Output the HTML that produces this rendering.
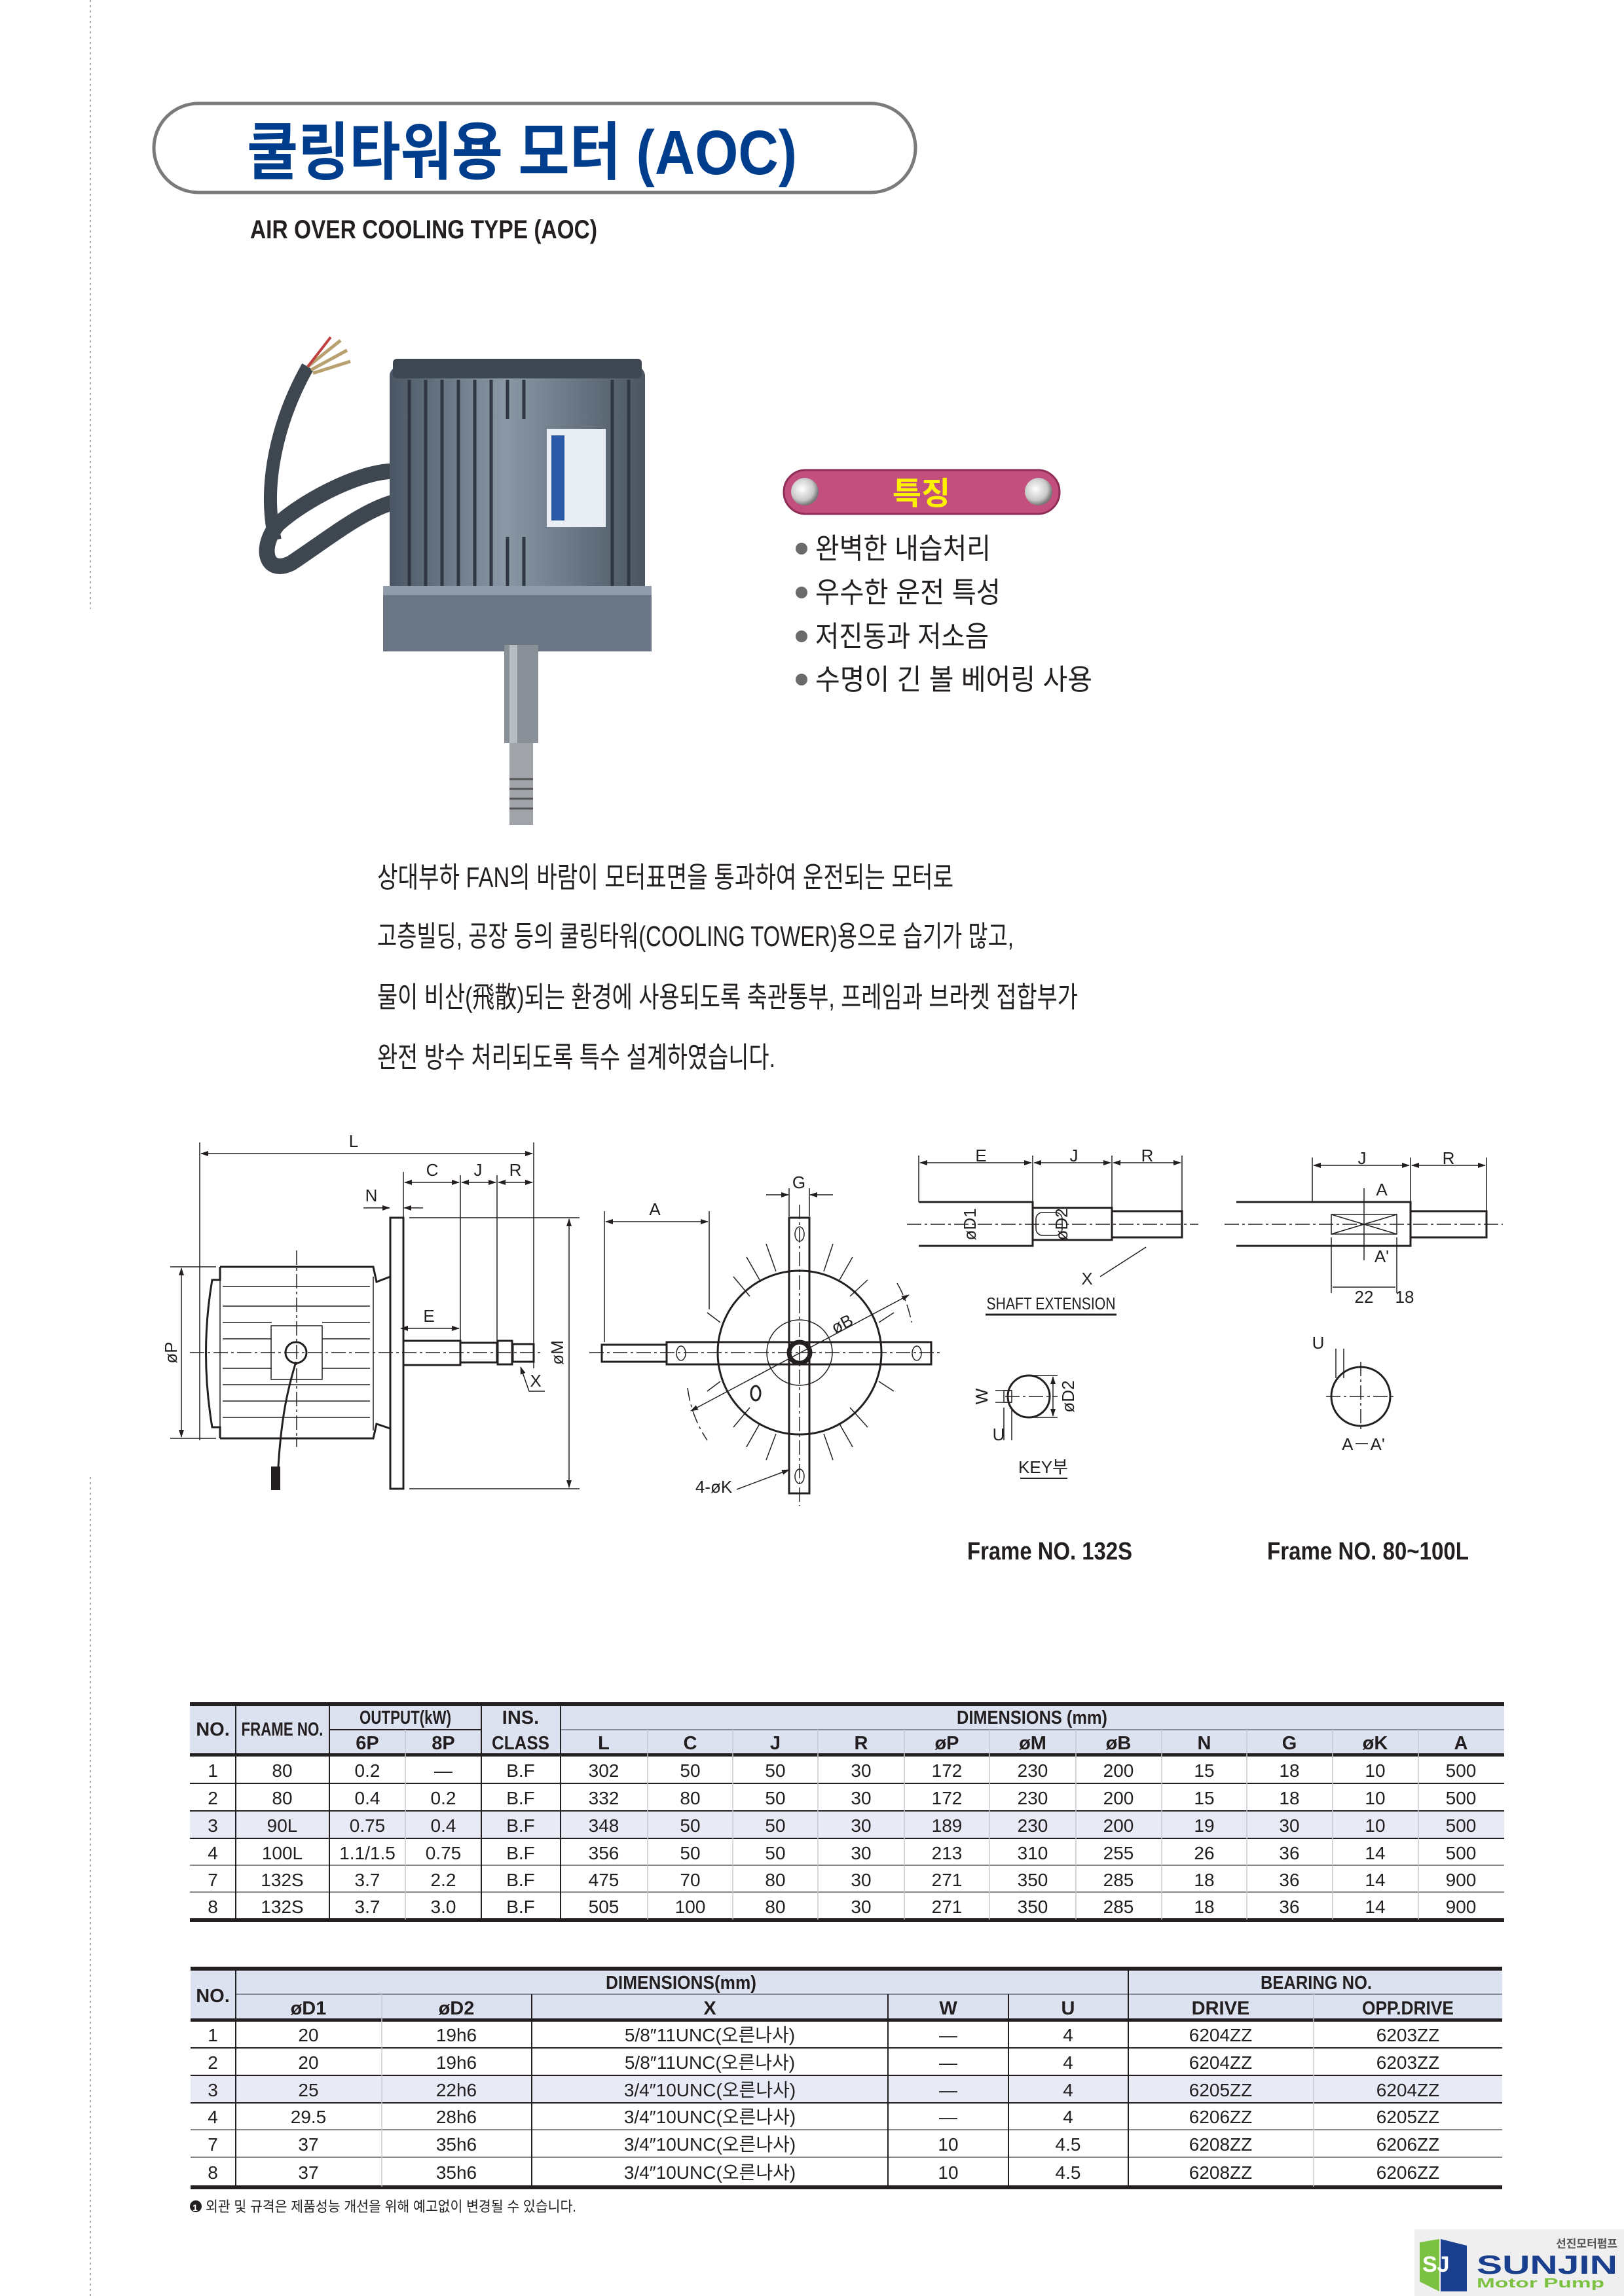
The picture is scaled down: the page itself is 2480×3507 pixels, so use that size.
<!DOCTYPE html>
<html><head><meta charset="utf-8"><style>
html,body{margin:0;padding:0;background:#fff;}
svg{display:block;}
text{font-family:"Liberation Sans","Noto Sans CJK KR",sans-serif;fill:#231f20;}
.b{font-weight:bold;}
.h{font-size:29px;font-weight:bold;text-anchor:middle;}
.d{font-size:28px;text-anchor:middle;}
.ln{stroke:#231f20;fill:none;stroke-width:3;}
.th{stroke:#231f20;fill:none;stroke-width:1.5;}
.cl{stroke:#231f20;fill:none;stroke-width:1.5;stroke-dasharray:22 5 4 5;}
.lb{font-size:26px;text-anchor:middle;}
</style></head><body>
<svg width="2480" height="3507" viewBox="0 0 2480 3507" xmlns="http://www.w3.org/2000/svg">
<defs>
<marker id="ar" markerWidth="12" markerHeight="8" refX="11" refY="4" orient="auto-start-reverse" markerUnits="userSpaceOnUse"><path d="M0,0 L12,4 L0,8 z" fill="#231f20"/></marker>
<radialGradient id="ball" cx="40%" cy="40%" r="60%"><stop offset="0" stop-color="#fff"/><stop offset="0.7" stop-color="#c8c8c8"/><stop offset="1" stop-color="#777"/></radialGradient>
<linearGradient id="mb" x1="0" x2="1"><stop offset="0" stop-color="#4a5663"/><stop offset="0.45" stop-color="#8a98a6"/><stop offset="1" stop-color="#4a5562"/></linearGradient>
</defs>

<line x1="138" y1="0" x2="138" y2="930" stroke="#aaa" stroke-width="2" stroke-dasharray="3 5"/>
<line x1="138" y1="2256" x2="138" y2="3507" stroke="#aaa" stroke-width="2" stroke-dasharray="3 5"/>

<rect x="235" y="158" width="1163" height="136" rx="68" fill="#fff" stroke="#7a7a7a" stroke-width="5"/>
<text x="377" y="266" class="b" font-size="96" textLength="840" lengthAdjust="spacingAndGlyphs" style="fill:#003d8c">쿨링타워용 모터 (AOC)</text>
<text x="382" y="364" class="b" font-size="40" textLength="530" lengthAdjust="spacingAndGlyphs">AIR OVER COOLING TYPE (AOC)</text>

<!-- motor photo -->
<g>
<path d="M610,720 C560,715 470,760 425,800 C395,835 405,880 445,860 C505,820 560,775 610,765" fill="none" stroke="#3e4650" stroke-width="24" stroke-linecap="round"/>
<path d="M420,825 C400,740 425,640 470,560" fill="none" stroke="#3e4650" stroke-width="20"/>
<path d="M470,560 L520,520 M475,565 L530,535 M478,570 L535,552" stroke="#b8a070" stroke-width="5"/>
<path d="M470,560 L505,515" stroke="#c04040" stroke-width="4"/>
<rect x="595" y="560" width="390" height="400" rx="14" fill="url(#mb)"/>
<rect x="600" y="548" width="380" height="30" rx="6" fill="#3e4852"/>
<g stroke="#2f3842" stroke-width="5">
<line x1="625" y1="580" x2="625" y2="935"/><line x1="650" y1="580" x2="650" y2="935"/><line x1="675" y1="580" x2="675" y2="935"/><line x1="700" y1="580" x2="700" y2="935"/><line x1="725" y1="580" x2="725" y2="935"/><line x1="750" y1="580" x2="750" y2="935"/><line x1="775" y1="580" x2="775" y2="640"/><line x1="800" y1="580" x2="800" y2="640"/><line x1="775" y1="820" x2="775" y2="935"/><line x1="800" y1="820" x2="800" y2="935"/><line x1="935" y1="580" x2="935" y2="935"/><line x1="960" y1="580" x2="960" y2="935"/>
</g>
<rect x="585" y="895" width="410" height="100" fill="#6a7684"/>
<rect x="585" y="895" width="410" height="14" fill="#909cab"/>
<rect x="835" y="655" width="90" height="150" fill="#e8eef4"/>
<rect x="842" y="665" width="20" height="130" fill="#2a5aa8"/>
<rect x="770" y="985" width="52" height="150" fill="#8a9098"/>
<rect x="778" y="985" width="12" height="150" fill="#b8bec4"/>
<rect x="778" y="1135" width="36" height="125" fill="#a0a4a8"/>
<g stroke="#555" stroke-width="3"><line x1="778" y1="1190" x2="814" y2="1190"/><line x1="778" y1="1205" x2="814" y2="1205"/><line x1="778" y1="1220" x2="814" y2="1220"/><line x1="778" y1="1235" x2="814" y2="1235"/></g>
</g>

<rect x="1197" y="718" width="421" height="67" rx="33" fill="#c24f7e" stroke="#8e2d56" stroke-width="3"/>
<circle cx="1229" cy="751" r="21" fill="url(#ball)"/>
<circle cx="1586" cy="751" r="21" fill="url(#ball)"/>
<text x="1407" y="770" class="b" font-size="48" text-anchor="middle" style="fill:#fff200">특징</text>
<g font-size="44">
<circle cx="1224" cy="838" r="9" fill="#6b6b6b"/><text x="1245" y="853" textLength="268" lengthAdjust="spacingAndGlyphs">완벽한 내습처리</text>
<circle cx="1224" cy="905" r="9" fill="#6b6b6b"/><text x="1245" y="920" textLength="283" lengthAdjust="spacingAndGlyphs">우수한 운전 특성</text>
<circle cx="1224" cy="972" r="9" fill="#6b6b6b"/><text x="1245" y="987" textLength="265" lengthAdjust="spacingAndGlyphs">저진동과 저소음</text>
<circle cx="1224" cy="1038" r="9" fill="#6b6b6b"/><text x="1245" y="1053" textLength="423" lengthAdjust="spacingAndGlyphs">수명이 긴 볼 베어링 사용</text>
</g>

<g font-size="44">
<text x="576" y="1355" textLength="880" lengthAdjust="spacingAndGlyphs">상대부하 FAN의 바람이 모터표면을 통과하여 운전되는 모터로</text>
<text x="576" y="1445" textLength="972" lengthAdjust="spacingAndGlyphs">고층빌딩, 공장 등의 쿨링타워(COOLING TOWER)용으로 습기가 많고,</text>
<text x="576" y="1538" textLength="1070" lengthAdjust="spacingAndGlyphs">물이 비산(飛散)되는 환경에 사용되도록 축관통부, 프레임과 브라켓 접합부가</text>
<text x="576" y="1630" textLength="608" lengthAdjust="spacingAndGlyphs">완전 방수 처리되도록 특수 설계하였습니다.</text>
</g>

<!-- SIDE VIEW -->
<g>
<line class="th" x1="305" y1="1745" x2="305" y2="2200"/>
<line class="th" x1="815" y1="1745" x2="815" y2="2090"/>
<line class="th" x1="307" y1="1762" x2="813" y2="1762" marker-start="url(#ar)" marker-end="url(#ar)"/>
<text x="540" y="1752" class="lb">L</text>
<line class="th" x1="616" y1="1790" x2="616" y2="1860"/>
<line class="th" x1="703" y1="1795" x2="703" y2="2048"/>
<line class="th" x1="759" y1="1795" x2="759" y2="2050"/>
<line class="th" x1="618" y1="1806" x2="701" y2="1806" marker-start="url(#ar)" marker-end="url(#ar)"/>
<line class="th" x1="705" y1="1806" x2="757" y2="1806" marker-start="url(#ar)" marker-end="url(#ar)"/>
<line class="th" x1="761" y1="1806" x2="813" y2="1806" marker-start="url(#ar)" marker-end="url(#ar)"/>
<text x="660" y="1796" class="lb">C</text><text x="730" y="1796" class="lb">J</text><text x="787" y="1796" class="lb">R</text>
<line class="th" x1="555" y1="1845" x2="595" y2="1845" marker-end="url(#ar)"/>
<line class="th" x1="646" y1="1845" x2="617" y2="1845" marker-end="url(#ar)"/>
<text x="567" y="1835" class="lb">N</text>
<rect x="596" y="1860" width="20" height="414" class="ln"/>
<line class="th" x1="625" y1="1860" x2="885" y2="1860"/>
<line class="th" x1="625" y1="2274" x2="885" y2="2274"/>
<line class="th" x1="869" y1="1862" x2="869" y2="2272" marker-start="url(#ar)" marker-end="url(#ar)"/>
<text transform="translate(860,2066) rotate(-90)" class="lb">øM</text>
<path class="ln" d="M336,1935 L570,1935 L575,1958 L596,1950 M336,2197 L570,2197 L575,2175 L596,2182 M336,1935 L336,1955 L324,1955 Q305,2066 324,2180 L336,2180 L336,2197"/>
<line class="th" x1="336" y1="1955" x2="336" y2="2180"/>
<line class="th" x1="570" y1="1950" x2="570" y2="2185"/>
<g class="th">
<line x1="340" y1="1965" x2="565" y2="1965"/><line x1="340" y1="1995" x2="565" y2="1995"/><line x1="340" y1="2020" x2="415" y2="2020"/><line x1="492" y1="2020" x2="565" y2="2020"/><line x1="340" y1="2045" x2="415" y2="2045"/><line x1="492" y1="2045" x2="565" y2="2045"/><line x1="340" y1="2090" x2="415" y2="2090"/><line x1="492" y1="2090" x2="565" y2="2090"/><line x1="340" y1="2115" x2="565" y2="2115"/><line x1="340" y1="2140" x2="565" y2="2140"/><line x1="340" y1="2165" x2="565" y2="2165"/>
</g>
<rect x="414" y="2025" width="78" height="82" class="th"/>
<circle cx="452" cy="2066" r="16" class="ln"/>
<path d="M452,2080 C440,2120 430,2160 425,2240" class="ln"/>
<rect x="414" y="2240" width="14" height="36" fill="#231f20"/>
<line class="th" x1="260" y1="1935" x2="330" y2="1935"/>
<line class="th" x1="260" y1="2197" x2="330" y2="2197"/>
<line class="th" x1="277" y1="1937" x2="277" y2="2195" marker-start="url(#ar)" marker-end="url(#ar)"/>
<text transform="translate(270,2066) rotate(-90)" class="lb">øP</text>
<rect x="616" y="2048" width="87" height="37" class="ln"/>
<rect x="703" y="2051" width="56" height="30" class="ln"/>
<rect x="760" y="2048" width="22" height="36" class="ln"/>
<rect x="783" y="2053" width="32" height="27" class="ln"/>
<line class="cl" x1="290" y1="2066" x2="830" y2="2066"/>
<line class="cl" x1="453" y1="1910" x2="453" y2="2210"/>
<line class="th" x1="612" y1="2029" x2="701" y2="2029" marker-start="url(#ar)" marker-end="url(#ar)"/>
<text x="655" y="2019" class="lb">E</text>
<path class="th" d="M832,2125 L808,2125 L795,2088" marker-end="url(#ar)"/>
<text x="818" y="2118" class="lb">X</text>
</g>

<!-- FRONT VIEW -->
<g>
<g class="th">
<line x1="1145" y1="1980" x2="1120" y2="1950"/><line x1="1160" y1="1955" x2="1140" y2="1920"/><line x1="1185" y1="1942" x2="1170" y2="1900"/><line x1="1258" y1="1942" x2="1272" y2="1900"/><line x1="1282" y1="1955" x2="1302" y2="1920"/><line x1="1298" y1="1980" x2="1325" y2="1955"/>
<line x1="1145" y1="2150" x2="1120" y2="2180"/><line x1="1160" y1="2175" x2="1140" y2="2210"/><line x1="1185" y1="2190" x2="1170" y2="2230"/><line x1="1258" y1="2190" x2="1272" y2="2230"/><line x1="1282" y1="2175" x2="1302" y2="2210"/><line x1="1298" y1="2150" x2="1325" y2="2180"/>
<line x1="1100" y1="2020" x2="1080" y2="2005"/><line x1="1342" y1="2020" x2="1365" y2="2005"/><line x1="1100" y1="2110" x2="1080" y2="2125"/><line x1="1342" y1="2110" x2="1365" y2="2125"/>
</g>
<circle cx="1221" cy="2066" r="125" fill="#fff" class="ln"/>
<rect x="1205" y="1860" width="31" height="421" fill="#fff" class="ln"/>
<rect x="1018" y="2050" width="404" height="34" fill="#fff" class="ln"/>
<circle cx="1221" cy="2066" r="50" class="th"/>
<circle cx="1221" cy="2066" r="16" fill="none" stroke="#231f20" stroke-width="7"/>
<ellipse cx="1154" cy="2128" rx="7" ry="11" class="ln"/>
<ellipse cx="1221" cy="1885" rx="7" ry="11" class="th"/><ellipse cx="1221" cy="2255" rx="7" ry="11" class="th"/>
<ellipse cx="1040" cy="2067" rx="7" ry="11" class="th"/><ellipse cx="1400" cy="2067" rx="7" ry="11" class="th"/>
<rect x="919" y="2054" width="99" height="26" class="ln"/>
<line class="cl" x1="900" y1="2066" x2="1440" y2="2066"/>
<line class="cl" x1="1221" y1="1840" x2="1221" y2="2300"/>
<path d="M1370,1960 A185,185 0 0 1 1392,2020" class="th" stroke-dasharray="20 6 4 6"/>
<path d="M1050,2120 A185,185 0 0 0 1080,2200" class="th" stroke-dasharray="20 6 4 6"/>
<line class="th" x1="1055" y1="2155" x2="1388" y2="1978" marker-start="url(#ar)" marker-end="url(#ar)"/>
<text transform="translate(1290,2030) rotate(-28)" class="lb">øB</text>
<line class="th" x1="923" y1="1850" x2="923" y2="2050"/>
<line class="th" x1="1083" y1="1850" x2="1083" y2="2000"/>
<line class="th" x1="925" y1="1866" x2="1081" y2="1866" marker-start="url(#ar)" marker-end="url(#ar)"/>
<text x="1000" y="1856" class="lb">A</text>
<line class="th" x1="1205" y1="1815" x2="1205" y2="1858"/><line class="th" x1="1236" y1="1815" x2="1236" y2="1858"/>
<line class="th" x1="1170" y1="1825" x2="1204" y2="1825" marker-end="url(#ar)"/>
<line class="th" x1="1272" y1="1825" x2="1237" y2="1825" marker-end="url(#ar)"/>
<text x="1220" y="1815" class="lb">G</text>
<path class="th" d="M1125,2275 L1205,2245" marker-end="url(#ar)"/>
<text x="1090" y="2280" class="lb">4-øK</text>
</g>

<!-- SHAFT EXTENSION 132S -->
<g>
<line class="th" x1="1403" y1="1765" x2="1403" y2="1836"/><line class="th" x1="1577" y1="1765" x2="1577" y2="1845"/><line class="th" x1="1698" y1="1765" x2="1698" y2="1850"/><line class="th" x1="1805" y1="1765" x2="1805" y2="1850"/>
<line class="th" x1="1405" y1="1776" x2="1575" y2="1776" marker-start="url(#ar)" marker-end="url(#ar)"/>
<line class="th" x1="1579" y1="1776" x2="1696" y2="1776" marker-start="url(#ar)" marker-end="url(#ar)"/>
<line class="th" x1="1700" y1="1776" x2="1803" y2="1776" marker-start="url(#ar)" marker-end="url(#ar)"/>
<text x="1498" y="1774" class="lb" font-size="22">E</text><text x="1640" y="1774" class="lb" font-size="22">J</text><text x="1752" y="1774" class="lb" font-size="22">R</text>
<path class="ln" d="M1403,1836 L1577,1836 L1577,1903 L1403,1903"/>
<rect x="1577" y="1845" width="121" height="49" class="ln"/>
<rect x="1698" y="1850" width="107" height="40" class="ln"/>
<rect x="1582" y="1852" width="40" height="35" rx="10" class="th"/>
<line class="cl" x1="1385" y1="1870" x2="1830" y2="1870"/>
<text transform="translate(1490,1870) rotate(-90)" class="lb" font-size="22">øD1</text>
<text transform="translate(1630,1870) rotate(-90)" class="lb" font-size="22">øD2</text>
<line class="th" x1="1750" y1="1905" x2="1680" y2="1950"/>
<text x="1660" y="1962" class="lb" font-size="22">X</text>
<text x="1605" y="2000" class="lb" font-size="24" textLength="197" lengthAdjust="spacingAndGlyphs">SHAFT EXTENSION</text>
<line x1="1505" y1="2008" x2="1705" y2="2008" stroke="#231f20" stroke-width="3"/>
<circle cx="1571" cy="2133" r="32" class="ln"/>
<rect x="1533" y="2124" width="12" height="18" class="th"/>
<line class="cl" x1="1535" y1="2133" x2="1615" y2="2133"/>
<line class="th" x1="1520" y1="2124" x2="1545" y2="2124"/><line class="th" x1="1520" y1="2142" x2="1545" y2="2142"/>
<text transform="translate(1508,2133) rotate(-90)" class="lb" font-size="20">W</text>
<line class="th" x1="1533" y1="2150" x2="1533" y2="2200"/><line class="th" x1="1545" y1="2150" x2="1545" y2="2200"/>
<text x="1525" y="2200" class="lb" font-size="20">U</text>
<line class="th" x1="1571" y1="2101" x2="1615" y2="2101"/><line class="th" x1="1571" y1="2165" x2="1615" y2="2165"/>
<line class="th" x1="1608" y1="2103" x2="1608" y2="2163" marker-start="url(#ar)" marker-end="url(#ar)"/>
<text transform="translate(1640,2133) rotate(-90)" class="lb" font-size="20">øD2</text>
<text x="1593" y="2250" class="lb" font-size="24">KEY부</text>
<line x1="1558" y1="2258" x2="1630" y2="2258" stroke="#231f20" stroke-width="2"/>
</g>

<!-- SHAFT 80~100L -->
<g>
<line class="th" x1="2004" y1="1768" x2="2004" y2="1835"/><line class="th" x1="2154" y1="1768" x2="2154" y2="1835"/><line class="th" x1="2270" y1="1768" x2="2270" y2="1850"/>
<line class="th" x1="2006" y1="1780" x2="2152" y2="1780" marker-start="url(#ar)" marker-end="url(#ar)"/>
<line class="th" x1="2156" y1="1780" x2="2268" y2="1780" marker-start="url(#ar)" marker-end="url(#ar)"/>
<text x="2080" y="1778" class="lb" font-size="22">J</text><text x="2212" y="1778" class="lb" font-size="22">R</text>
<path class="ln" d="M1888,1836 L2154,1836 L2154,1903 L1888,1903"/>
<rect x="2154" y="1850" width="116" height="40" class="ln"/>
<rect x="2033" y="1855" width="100" height="30" class="th"/>
<line class="th" x1="2033" y1="1855" x2="2133" y2="1885"/><line class="th" x1="2033" y1="1885" x2="2133" y2="1855"/>
<line class="cl" x1="1870" y1="1870" x2="2295" y2="1870"/>
<line class="th" x1="2083" y1="1815" x2="2083" y2="1925"/>
<text x="2110" y="1826" class="lb" font-size="20">A</text><text x="2110" y="1928" class="lb" font-size="20">A'</text>
<line class="th" x1="2033" y1="1890" x2="2033" y2="1975"/><line class="th" x1="2133" y1="1890" x2="2133" y2="1975"/>
<line class="th" x1="2035" y1="1966" x2="2131" y2="1966"/>
<text x="2083" y="1990" class="lb" font-size="22">22</text><text x="2145" y="1990" class="lb" font-size="22">18</text>
<circle cx="2078" cy="2133" r="45" class="ln"/>
<line class="cl" x1="2025" y1="2133" x2="2130" y2="2133"/><line class="cl" x1="2078" y1="2080" x2="2078" y2="2185"/>
<line class="th" x1="2040" y1="2060" x2="2040" y2="2105"/><line class="th" x1="2052" y1="2060" x2="2052" y2="2105"/>
<text x="2013" y="2060" class="lb" font-size="22">U</text>
<text x="2082" y="2215" class="lb" font-size="22">A－A'</text>
</g>

<text x="1477" y="2382" class="b" font-size="38" textLength="252" lengthAdjust="spacingAndGlyphs">Frame NO. 132S</text>
<text x="1935" y="2382" class="b" font-size="38" textLength="308" lengthAdjust="spacingAndGlyphs">Frame NO. 80~100L</text>

<!-- TABLE 1 -->
<rect x="290" y="2603" width="2007" height="77" fill="#dde2f0"/>
<rect x="290" y="2766" width="2007" height="42" fill="#e8ebf6"/>
<rect x="290" y="2600" width="2007" height="6" fill="#231f20"/>
<rect x="290" y="2678" width="2007" height="5" fill="#231f20"/>
<rect x="290" y="2930" width="2007" height="6" fill="#231f20"/>
<g stroke="#231f20" stroke-width="2">
<line x1="503" y1="2642" x2="735" y2="2642"/><line x1="856" y1="2642" x2="2297" y2="2642" stroke="#8a8fa0"/>
<line x1="290" y1="2724" x2="2297" y2="2724"/><line x1="290" y1="2766" x2="2297" y2="2766"/><line x1="290" y1="2808" x2="2297" y2="2808"/><line x1="290" y1="2849" x2="2297" y2="2849" stroke="#888"/><line x1="290" y1="2890" x2="2297" y2="2890" stroke="#888"/>
<line x1="360" y1="2603" x2="360" y2="2932"/><line x1="503" y1="2603" x2="503" y2="2932"/><line x1="735" y1="2603" x2="735" y2="2932"/><line x1="856" y1="2603" x2="856" y2="2932"/>
</g>
<g stroke="#c8c8d0" stroke-width="1.5">
<line x1="619" y1="2642" x2="619" y2="2932"/>
<line x1="989" y1="2642" x2="989" y2="2932"/><line x1="1119" y1="2642" x2="1119" y2="2932"/><line x1="1249" y1="2642" x2="1249" y2="2932"/><line x1="1381" y1="2642" x2="1381" y2="2932"/><line x1="1511" y1="2642" x2="1511" y2="2932"/><line x1="1643" y1="2642" x2="1643" y2="2932"/><line x1="1774" y1="2642" x2="1774" y2="2932"/><line x1="1904" y1="2642" x2="1904" y2="2932"/><line x1="2035" y1="2642" x2="2035" y2="2932"/><line x1="2166" y1="2642" x2="2166" y2="2932"/>
</g>
<text x="325" y="2651" class="h">NO.</text>
<text x="431" y="2651" class="h" textLength="125" lengthAdjust="spacingAndGlyphs">FRAME NO.</text>
<text x="619" y="2633" class="h" textLength="140" lengthAdjust="spacingAndGlyphs">OUTPUT(kW)</text>
<text x="561" y="2672" class="h">6P</text><text x="677" y="2672" class="h">8P</text>
<text x="795" y="2633" class="h">INS.</text><text x="795" y="2672" class="h" textLength="88" lengthAdjust="spacingAndGlyphs">CLASS</text>
<text x="1576" y="2633" class="h" textLength="230" lengthAdjust="spacingAndGlyphs">DIMENSIONS (mm)</text>
<text x="922" y="2672" class="h">L</text><text x="1054" y="2672" class="h">C</text><text x="1184" y="2672" class="h">J</text><text x="1315" y="2672" class="h">R</text><text x="1446" y="2672" class="h">øP</text><text x="1577" y="2672" class="h">øM</text><text x="1708" y="2672" class="h">øB</text><text x="1839" y="2672" class="h">N</text><text x="1969" y="2672" class="h">G</text><text x="2100" y="2672" class="h">øK</text><text x="2231" y="2672" class="h">A</text>
<g>
<text class="d" x="325" y="2714">1</text><text class="d" x="431" y="2714">80</text><text class="d" x="561" y="2714">0.2</text><text class="d" x="677" y="2714">—</text><text class="d" x="795" y="2714">B.F</text><text class="d" x="922" y="2714">302</text><text class="d" x="1054" y="2714">50</text><text class="d" x="1184" y="2714">50</text><text class="d" x="1315" y="2714">30</text><text class="d" x="1446" y="2714">172</text><text class="d" x="1577" y="2714">230</text><text class="d" x="1708" y="2714">200</text><text class="d" x="1839" y="2714">15</text><text class="d" x="1969" y="2714">18</text><text class="d" x="2100" y="2714">10</text><text class="d" x="2231" y="2714">500</text>
<text class="d" x="325" y="2756">2</text><text class="d" x="431" y="2756">80</text><text class="d" x="561" y="2756">0.4</text><text class="d" x="677" y="2756">0.2</text><text class="d" x="795" y="2756">B.F</text><text class="d" x="922" y="2756">332</text><text class="d" x="1054" y="2756">80</text><text class="d" x="1184" y="2756">50</text><text class="d" x="1315" y="2756">30</text><text class="d" x="1446" y="2756">172</text><text class="d" x="1577" y="2756">230</text><text class="d" x="1708" y="2756">200</text><text class="d" x="1839" y="2756">15</text><text class="d" x="1969" y="2756">18</text><text class="d" x="2100" y="2756">10</text><text class="d" x="2231" y="2756">500</text>
<text class="d" x="325" y="2798">3</text><text class="d" x="431" y="2798">90L</text><text class="d" x="561" y="2798">0.75</text><text class="d" x="677" y="2798">0.4</text><text class="d" x="795" y="2798">B.F</text><text class="d" x="922" y="2798">348</text><text class="d" x="1054" y="2798">50</text><text class="d" x="1184" y="2798">50</text><text class="d" x="1315" y="2798">30</text><text class="d" x="1446" y="2798">189</text><text class="d" x="1577" y="2798">230</text><text class="d" x="1708" y="2798">200</text><text class="d" x="1839" y="2798">19</text><text class="d" x="1969" y="2798">30</text><text class="d" x="2100" y="2798">10</text><text class="d" x="2231" y="2798">500</text>
<text class="d" x="325" y="2840">4</text><text class="d" x="431" y="2840">100L</text><text class="d" x="561" y="2840">1.1/1.5</text><text class="d" x="677" y="2840">0.75</text><text class="d" x="795" y="2840">B.F</text><text class="d" x="922" y="2840">356</text><text class="d" x="1054" y="2840">50</text><text class="d" x="1184" y="2840">50</text><text class="d" x="1315" y="2840">30</text><text class="d" x="1446" y="2840">213</text><text class="d" x="1577" y="2840">310</text><text class="d" x="1708" y="2840">255</text><text class="d" x="1839" y="2840">26</text><text class="d" x="1969" y="2840">36</text><text class="d" x="2100" y="2840">14</text><text class="d" x="2231" y="2840">500</text>
<text class="d" x="325" y="2881">7</text><text class="d" x="431" y="2881">132S</text><text class="d" x="561" y="2881">3.7</text><text class="d" x="677" y="2881">2.2</text><text class="d" x="795" y="2881">B.F</text><text class="d" x="922" y="2881">475</text><text class="d" x="1054" y="2881">70</text><text class="d" x="1184" y="2881">80</text><text class="d" x="1315" y="2881">30</text><text class="d" x="1446" y="2881">271</text><text class="d" x="1577" y="2881">350</text><text class="d" x="1708" y="2881">285</text><text class="d" x="1839" y="2881">18</text><text class="d" x="1969" y="2881">36</text><text class="d" x="2100" y="2881">14</text><text class="d" x="2231" y="2881">900</text>
<text class="d" x="325" y="2922">8</text><text class="d" x="431" y="2922">132S</text><text class="d" x="561" y="2922">3.7</text><text class="d" x="677" y="2922">3.0</text><text class="d" x="795" y="2922">B.F</text><text class="d" x="922" y="2922">505</text><text class="d" x="1054" y="2922">100</text><text class="d" x="1184" y="2922">80</text><text class="d" x="1315" y="2922">30</text><text class="d" x="1446" y="2922">271</text><text class="d" x="1577" y="2922">350</text><text class="d" x="1708" y="2922">285</text><text class="d" x="1839" y="2922">18</text><text class="d" x="1969" y="2922">36</text><text class="d" x="2100" y="2922">14</text><text class="d" x="2231" y="2922">900</text>
</g>

<!-- TABLE 2 -->
<rect x="291" y="3007" width="2003" height="80" fill="#dde2f0"/>
<rect x="291" y="3170" width="2003" height="42" fill="#e8ebf6"/>
<rect x="291" y="3004" width="2003" height="6" fill="#231f20"/>
<rect x="291" y="3083" width="2003" height="5" fill="#231f20"/>
<rect x="291" y="3338" width="2003" height="6" fill="#231f20"/>
<g stroke="#231f20" stroke-width="2">
<line x1="360" y1="3046" x2="2294" y2="3046" stroke="#8a8fa0"/>
<line x1="291" y1="3128" x2="2294" y2="3128"/><line x1="291" y1="3170" x2="2294" y2="3170"/><line x1="291" y1="3212" x2="2294" y2="3212"/><line x1="291" y1="3253" x2="2294" y2="3253" stroke="#888"/><line x1="291" y1="3295" x2="2294" y2="3295" stroke="#888"/>
<line x1="360" y1="3007" x2="360" y2="3340"/><line x1="1723" y1="3007" x2="1723" y2="3340"/>
<line x1="812" y1="3046" x2="812" y2="3340"/><line x1="1356" y1="3046" x2="1356" y2="3340"/><line x1="1540" y1="3046" x2="1540" y2="3340"/>
</g>
<g stroke="#c8c8d0" stroke-width="1.5"><line x1="583" y1="3046" x2="583" y2="3340"/><line x1="2006" y1="3046" x2="2006" y2="3340"/></g>
<text x="325" y="3058" class="h">NO.</text>
<text x="1040" y="3038" class="h" textLength="230" lengthAdjust="spacingAndGlyphs">DIMENSIONS(mm)</text>
<text x="2010" y="3038" class="h" textLength="170" lengthAdjust="spacingAndGlyphs">BEARING NO.</text>
<text x="471" y="3077" class="h">øD1</text><text x="697" y="3077" class="h">øD2</text><text x="1084" y="3077" class="h">X</text><text x="1448" y="3077" class="h">W</text><text x="1631" y="3077" class="h">U</text><text x="1864" y="3077" class="h">DRIVE</text><text x="2150" y="3077" class="h" textLength="140" lengthAdjust="spacingAndGlyphs">OPP.DRIVE</text>
<g>
<text class="d" x="325" y="3118">1</text><text class="d" x="471" y="3118">20</text><text class="d" x="697" y="3118">19h6</text><text class="d" x="1084" y="3118">5/8″11UNC(오른나사)</text><text class="d" x="1448" y="3118">—</text><text class="d" x="1631" y="3118">4</text><text class="d" x="1864" y="3118">6204ZZ</text><text class="d" x="2150" y="3118">6203ZZ</text>
<text class="d" x="325" y="3160">2</text><text class="d" x="471" y="3160">20</text><text class="d" x="697" y="3160">19h6</text><text class="d" x="1084" y="3160">5/8″11UNC(오른나사)</text><text class="d" x="1448" y="3160">—</text><text class="d" x="1631" y="3160">4</text><text class="d" x="1864" y="3160">6204ZZ</text><text class="d" x="2150" y="3160">6203ZZ</text>
<text class="d" x="325" y="3202">3</text><text class="d" x="471" y="3202">25</text><text class="d" x="697" y="3202">22h6</text><text class="d" x="1084" y="3202">3/4″10UNC(오른나사)</text><text class="d" x="1448" y="3202">—</text><text class="d" x="1631" y="3202">4</text><text class="d" x="1864" y="3202">6205ZZ</text><text class="d" x="2150" y="3202">6204ZZ</text>
<text class="d" x="325" y="3243">4</text><text class="d" x="471" y="3243">29.5</text><text class="d" x="697" y="3243">28h6</text><text class="d" x="1084" y="3243">3/4″10UNC(오른나사)</text><text class="d" x="1448" y="3243">—</text><text class="d" x="1631" y="3243">4</text><text class="d" x="1864" y="3243">6206ZZ</text><text class="d" x="2150" y="3243">6205ZZ</text>
<text class="d" x="325" y="3285">7</text><text class="d" x="471" y="3285">37</text><text class="d" x="697" y="3285">35h6</text><text class="d" x="1084" y="3285">3/4″10UNC(오른나사)</text><text class="d" x="1448" y="3285">10</text><text class="d" x="1631" y="3285">4.5</text><text class="d" x="1864" y="3285">6208ZZ</text><text class="d" x="2150" y="3285">6206ZZ</text>
<text class="d" x="325" y="3328">8</text><text class="d" x="471" y="3328">37</text><text class="d" x="697" y="3328">35h6</text><text class="d" x="1084" y="3328">3/4″10UNC(오른나사)</text><text class="d" x="1448" y="3328">10</text><text class="d" x="1631" y="3328">4.5</text><text class="d" x="1864" y="3328">6208ZZ</text><text class="d" x="2150" y="3328">6206ZZ</text>
</g>
<circle cx="299" cy="3370" r="9" fill="#231f20"/>
<text x="294" y="3377" font-size="14" style="fill:#fff" class="b">1</text>
<text x="314" y="3378" font-size="22" textLength="566" lengthAdjust="spacingAndGlyphs">외관 및 규격은 제품성능 개선을 위해 예고없이 변경될 수 있습니다.</text>

<rect x="2160" y="3405" width="320" height="102" fill="#efefef"/>
<path d="M2168,3425 L2198,3420 L2198,3500 L2168,3485 z" fill="#7cc242"/>
<path d="M2200,3420 L2240,3430 L2240,3500 L2200,3500 z" fill="#1a3f8f"/>
<text x="2172" y="3470" class="b" font-size="34" style="fill:#fff">SJ</text>
<text x="2470" y="3433" font-size="17" text-anchor="end" class="b" style="fill:#555">선진모터펌프</text>
<text x="2255" y="3473" class="b" font-size="40" textLength="215" lengthAdjust="spacingAndGlyphs" style="fill:#1a3f8f">SUNJIN</text>
<text x="2255" y="3494" class="b" font-size="20" textLength="195" lengthAdjust="spacingAndGlyphs" style="fill:#7cc242">Motor Pump</text>
</svg>
</body></html>
